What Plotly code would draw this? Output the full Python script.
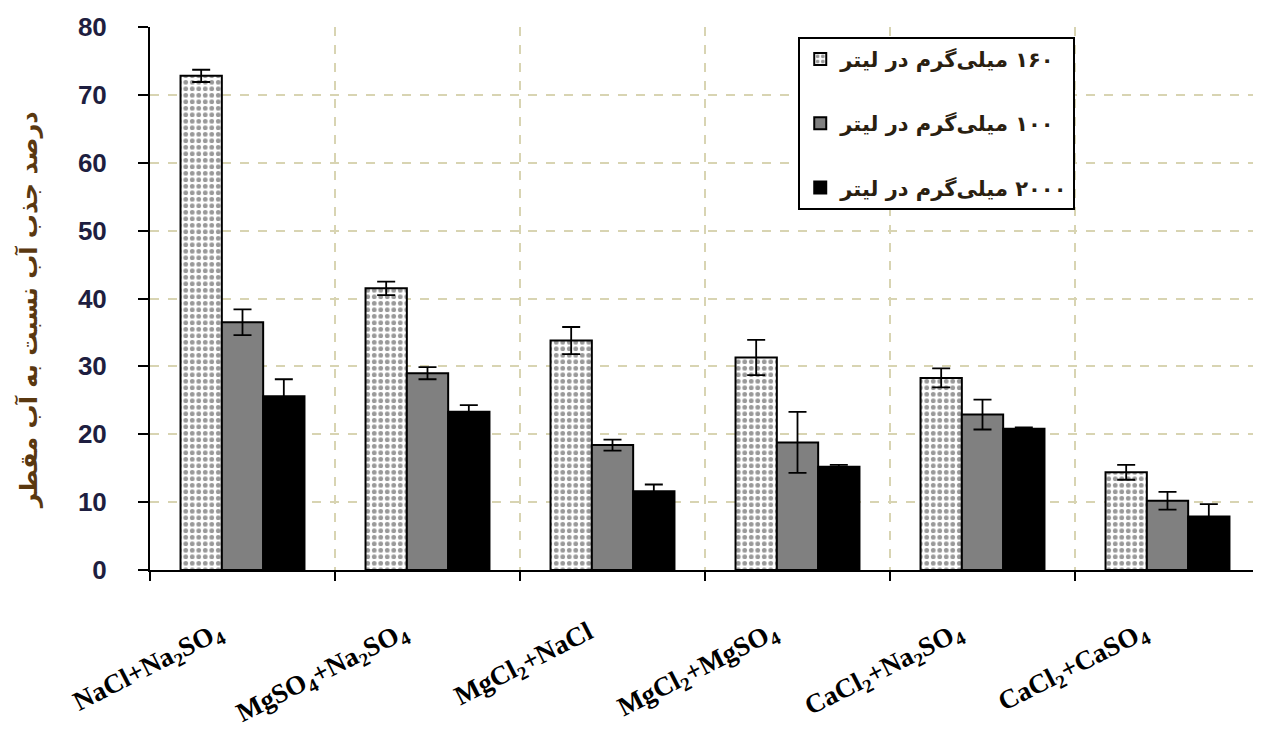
import plotly.graph_objects as go

categories = [
    "NaCl+Na<sub>2</sub>SO<sub>4</sub>",
    "MgSO<sub>4</sub>+Na<sub>2</sub>SO<sub>4</sub>",
    "MgCl<sub>2</sub>+NaCl",
    "MgCl<sub>2</sub>+MgSO<sub>4</sub>",
    "CaCl<sub>2</sub>+Na<sub>2</sub>SO<sub>4</sub>",
    "CaCl<sub>2</sub>+CaSO<sub>4</sub>",
]
series_names = [
    "۱۶۰ میلی‌گرم در لیتر",
    "۱۰۰ میلی‌گرم در لیتر",
    "۲۰۰۰ میلی‌گرم در لیتر",
]
values_160 = [72.8, 41.5, 33.8, 31.3, 28.3, 14.4]
errors_160 = [0.9, 1.0, 2.0, 2.6, 1.4, 1.1]
values_100 = [36.5, 29.0, 18.4, 18.8, 22.9, 10.2]
errors_100 = [1.9, 0.9, 0.8, 4.5, 2.2, 1.3]
values_2000 = [25.6, 23.3, 11.6, 15.2, 20.8, 7.9]
errors_2000 = [2.5, 1.0, 1.0, 0.3, 0.2, 1.8]
y_ticks = [0, 10, 20, 30, 40, 50, 60, 70, 80]
y_title = "درصد جذب آب نسبت به آب مقطر"

RLE, PDF = "\u202B", "\u202C"
tick_text = [c + "\u00a0" * 4 for c in categories]

line = dict(color="black", width=2)
err = lambda e: dict(type="data", array=e, visible=True, color="black", thickness=1.8, width=9)

fig = go.Figure()
fig.add_trace(go.Bar(
    x=categories, y=values_160, name=RLE + series_names[0] + PDF, legendgroup="a",
    marker=dict(color="white", line=line,
                pattern=dict(shape=".", fgcolor="#333333", bgcolor="white", size=6.5, solidity=0.42)),
    error_y=err(errors_160)))
fig.add_trace(go.Bar(
    x=categories, y=values_100, name=RLE + series_names[1] + PDF, legendgroup="b",
    marker=dict(color="#808080", line=line),
    error_y=err(errors_100)))
fig.add_trace(go.Bar(
    x=categories, y=values_2000, name=RLE + series_names[2] + PDF, legendgroup="c",
    marker=dict(color="black", line=line),
    error_y=err(errors_2000)))

fig.update_layout(
    width=1253, height=730,
    margin=dict(l=142, r=1, t=19, b=168),
    paper_bgcolor="white", plot_bgcolor="white",
    barmode="group", bargap=0.33, bargroupgap=0,
    showlegend=True,
    legend=dict(
        x=0.584, y=0.982, xanchor="left", yanchor="top",
        bgcolor="white", bordercolor="black", borderwidth=2,
        font=dict(family="DejaVu Sans", size=21, color="#2a2010", weight="bold"),
        tracegroupgap=34, itemsizing="constant",
    ),
    xaxis=dict(
        tickson="boundaries", showgrid=True, gridcolor="#d8d4b2", griddash="dash", gridwidth=1.5,
        showline=True, linecolor="black", linewidth=2,
        ticks="outside", ticklen=9, tickcolor="black", tickwidth=2,
        tickmode="array", tickvals=categories, ticktext=tick_text,
        tickangle=-27, ticklabelstandoff=22,
        tickfont=dict(family="Liberation Serif", size=27, color="black", weight="bold"),
        automargin=False,
    ),
    yaxis=dict(
        range=[0, 80], tickvals=y_ticks,
        showgrid=True, gridcolor="#d8d4b2", griddash="dash", gridwidth=1.5,
        showline=True, linecolor="black", linewidth=2,
        ticks="outside", ticklen=10, tickcolor="black", tickwidth=2,
        ticklabelstandoff=26, zeroline=False,
        tickfont=dict(family="Arial, Liberation Sans", size=26, color="#1e1e40", weight="bold"),
        automargin=False,
    ),
    annotations=[dict(
        text=y_title, textangle=-90, xref="paper", yref="paper",
        x=-0.11, y=0.48, xanchor="center", yanchor="middle", showarrow=False,
        font=dict(family="DejaVu Sans", size=24, color="#5a3810", weight="bold"),
    )],
)

fig.write_html("out.html")
